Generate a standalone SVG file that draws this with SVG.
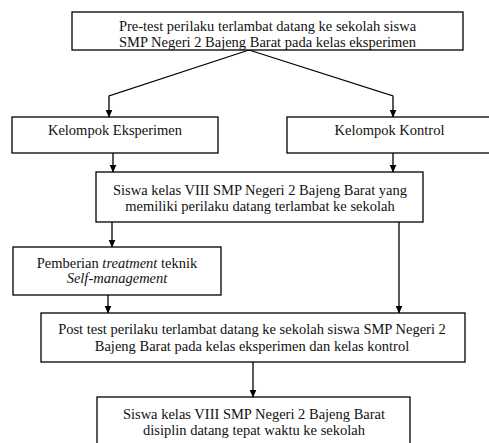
<svg xmlns="http://www.w3.org/2000/svg" width="489" height="443" viewBox="0 0 489 443">
<style>
.box{fill:#fff;stroke:#000;stroke-width:1.3}
text{font-family:'Liberation Serif','Times New Roman',Times,serif;font-size:14.5px;fill:#111;text-anchor:middle}
.c{fill:none;stroke:#000;stroke-width:1.3}
</style>
<defs>
<marker id="ah" viewBox="0 0 8 8" refX="7.5" refY="4" markerWidth="8" markerHeight="8" markerUnits="userSpaceOnUse" orient="auto">
<path d="M0,0.5 L8,4 L0,7.5 Z" fill="#000"/>
</marker>
</defs>
<rect width="489" height="443" fill="#fff"/>
<g id="connectors">
<polyline class="c" points="249,50 109,96 109,117" marker-end="url(#ah)"/>
<polyline class="c" points="249,50 393,96 393,117" marker-end="url(#ah)"/>
<line class="c" x1="113" y1="153" x2="113" y2="172" marker-end="url(#ah)"/>
<line class="c" x1="393" y1="153" x2="393" y2="172" marker-end="url(#ah)"/>
<line class="c" x1="112" y1="222" x2="112" y2="247" marker-end="url(#ah)"/>
<line class="c" x1="399" y1="222" x2="399" y2="313" marker-end="url(#ah)"/>
<line class="c" x1="108" y1="295" x2="108" y2="313" marker-end="url(#ah)"/>
<line class="c" x1="253" y1="362" x2="253" y2="397" marker-end="url(#ah)"/>
</g>
<g font-family="Liberation Serif, serif">
<g id="pretest">
<rect class="box" x="72" y="12" width="391" height="38"/>
<text x="267.5" y="31">Pre-test perilaku terlambat datang ke sekolah siswa</text>
<text x="267.5" y="47">SMP Negeri 2 Bajeng Barat pada kelas eksperimen</text>
</g>
<g id="eksperimen">
<rect class="box" x="12" y="117" width="206" height="36"/>
<text x="115" y="135">Kelompok Eksperimen</text>
</g>
<g id="kontrol">
<rect class="box" x="287" y="117" width="210" height="36"/>
<text x="389.5" y="135">Kelompok Kontrol</text>
</g>
<g id="siswa">
<rect class="box" x="96" y="172" width="327" height="50"/>
<text x="260" y="195">Siswa kelas VIII SMP Negeri 2 Bajeng Barat yang</text>
<text x="260" y="211">memiliki perilaku datang terlambat ke sekolah</text>
</g>
<g id="treatment">
<rect class="box" x="13" y="247" width="208" height="48"/>
<text x="117" y="268">Pemberian <tspan font-style="italic">treatment</tspan> teknik</text>
<text x="117" y="283" font-style="italic">Self-management</text>
</g>
<g id="posttest">
<rect class="box" x="41" y="313" width="424" height="49"/>
<text x="252" y="334">Post test perilaku terlambat datang ke sekolah siswa SMP Negeri 2</text>
<text x="252" y="351">Bajeng Barat pada kelas eksperimen dan kelas kontrol</text>
</g>
<g id="hasil">
<rect class="box" x="97" y="397" width="313" height="60"/>
<text x="254" y="419">Siswa kelas VIII SMP Negeri 2 Bajeng Barat</text>
<text x="254" y="435">disiplin datang tepat waktu ke sekolah</text>
</g>
</g>
</svg>
